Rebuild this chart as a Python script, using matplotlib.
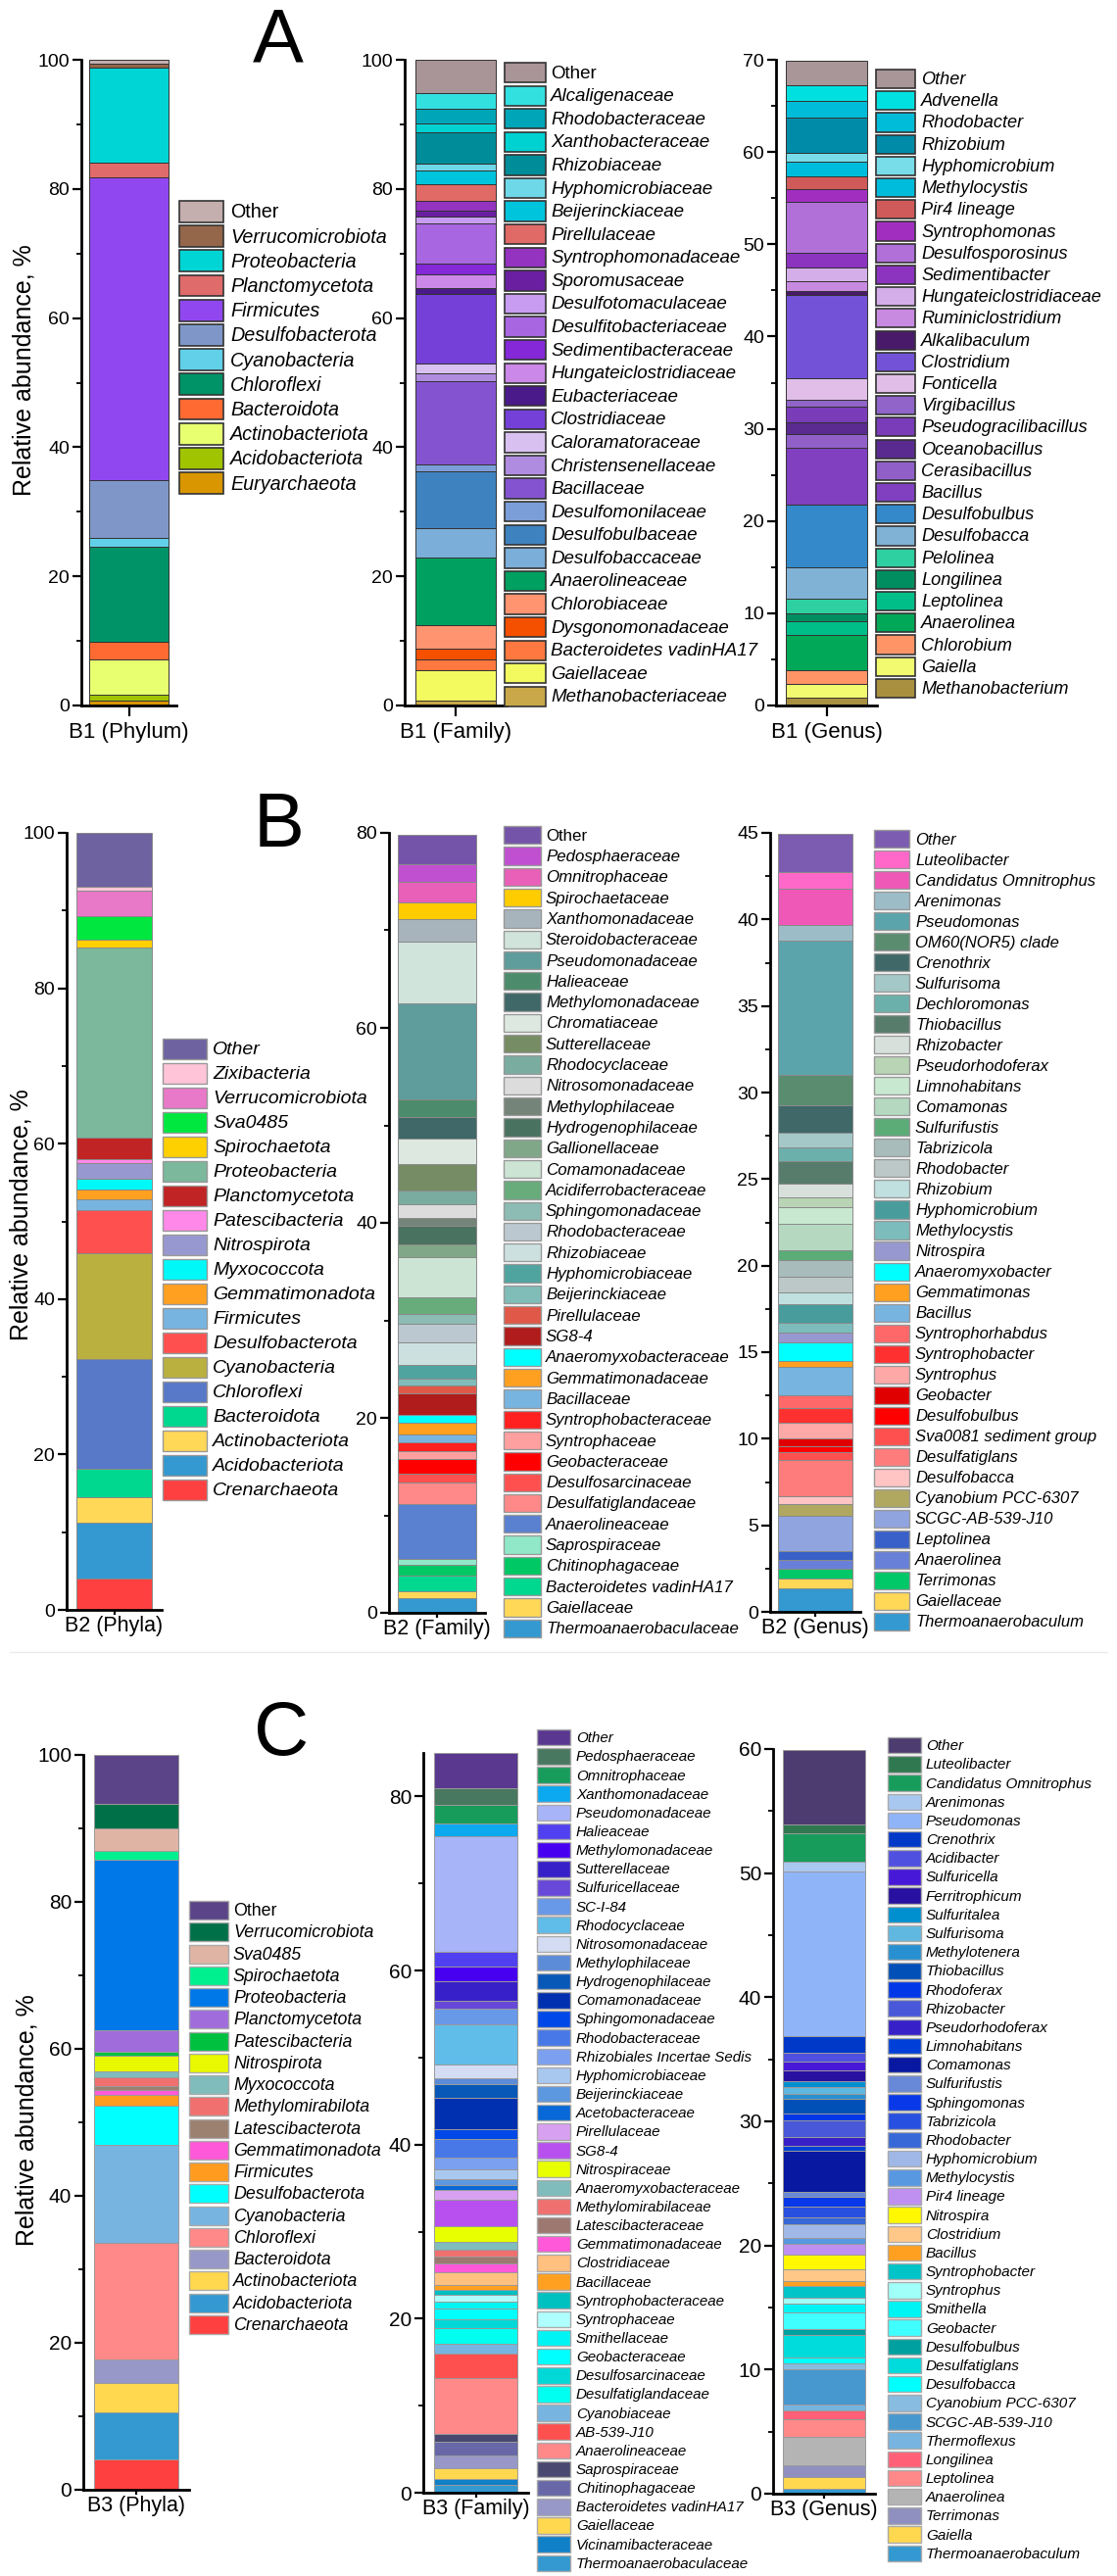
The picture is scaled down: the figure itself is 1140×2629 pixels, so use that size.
import numpy as np
import matplotlib
matplotlib.use("Agg")
import matplotlib.pyplot as plt
from matplotlib.patches import Rectangle
from matplotlib.ticker import MultipleLocator, FuncFormatter
from matplotlib.transforms import ScaledTranslation

plt.rcParams['font.family'] = ['Liberation Sans', 'DejaVu Sans']

# ---------------- DATA (bottom -> top of each stack) ----------------
a_phy_names = ["Euryarchaeota", "Acidobacteriota", "Actinobacteriota", "Bacteroidota", "Chloroflexi",
               "Cyanobacteria", "Desulfobacterota", "Firmicutes", "Planctomycetota", "Proteobacteria",
               "Verrucomicrobiota", "Other"]
a_phy_vals = [0.7, 1.0, 5.4, 2.7, 14.8, 1.3, 9.0, 46.9, 2.3, 14.7, 0.6, 0.6]
a_phy_cols = ['#D99600', '#A0C400', '#E8FF70', '#FF6A33', '#009368', '#62D0E8', '#7F97C8', '#9147F0',
              '#E06B6B', '#00D5D5', '#94664A', '#C4AEAE']

a_fam_names = ["Methanobacteriaceae", "Gaiellaceae", "Bacteroidetes vadinHA17", "Dysgonomonadaceae",
               "Chlorobiaceae", "Anaerolineaceae", "Desulfobaccaceae", "Desulfobulbaceae", "Desulfomonilaceae",
               "Bacillaceae", "Christensenellaceae", "Caloramatoraceae", "Clostridiaceae", "Eubacteriaceae",
               "Hungateiclostridiaceae", "Sedimentibacteraceae", "Desulfitobacteriaceae", "Desulfotomaculaceae",
               "Sporomusaceae", "Syntrophomonadaceae", "Pirellulaceae", "Beijerinckiaceae", "Hyphomicrobiaceae",
               "Rhizobiaceae", "Xanthobacteraceae", "Rhodobacteraceae", "Alcaligenaceae", "Other"]
a_fam_vals = [0.7, 4.8, 1.7, 1.6, 3.6, 10.5, 4.6, 8.8, 1.1, 12.8, 1.2, 1.5, 10.8, 0.9, 2.1, 1.8, 6.2, 1.0,
              1.0, 1.4, 2.6, 2.2, 1.0, 4.8, 1.4, 2.3, 2.4, 5.2]
a_fam_cols = ['#C8A848', '#F2FA60', '#FF7840', '#F55000', '#FF9470', '#00A060', '#7BAED8', '#3F82C0',
              '#7B9ED8', '#8454D0', '#B08CE0', '#D8C0F0', '#7540D8', '#4A1A8A', '#CC88E8', '#8428D8',
              '#A866E0', '#C89CF0', '#6A1FA0', '#9433C0', '#E06A66', '#00C4DC', '#6FD8E8', '#008C98',
              '#00D2D2', '#00A6B8', '#33E0E0', '#A99498']

a_gen_names = ["Methanobacterium", "Gaiella", "Chlorobium", "Anaerolinea", "Leptolinea", "Longilinea",
               "Pelolinea", "Desulfobacca", "Desulfobulbus", "Bacillus", "Cerasibacillus", "Oceanobacillus",
               "Pseudogracilibacillus", "Virgibacillus", "Fonticella", "Clostridium", "Alkalibaculum",
               "Ruminiclostridium", "Hungateiclostridiaceae", "Sedimentibacter", "Desulfosporosinus",
               "Syntrophomonas", "Pir4 lineage", "Methylocystis", "Hyphomicrobium", "Rhizobium", "Rhodobacter",
               "Advenella", "Other"]
a_gen_vals = [0.8, 1.5, 1.5, 3.9, 1.4, 0.9, 1.6, 3.4, 6.8, 6.1, 1.5, 1.3, 1.7, 0.7, 2.4, 9.0, 0.4, 1.1,
              1.5, 1.6, 5.5, 1.4, 1.4, 1.5, 1.0, 3.8, 1.8, 1.7, 2.7]
a_gen_cols = ['#A89040', '#F2FA70', '#FF9466', '#00A858', '#00BE88', '#008E60', '#2ECFA0', '#80B2D6',
              '#3389C9', '#8040C0', '#9060C8', '#5A2A90', '#7A3CB8', '#9064C8', '#E0BEE8', '#7452D8',
              '#4A1A6A', '#C88AE0', '#D4AEE8', '#8C34C0', '#B070D8', '#A22EC0', '#D05A5A', '#00BCDC',
              '#78DDE8', '#008CA8', '#00BCD8', '#00E0E0', '#A89698']

b_phy_names = ["Crenarchaeota", "Acidobacteriota", "Actinobacteriota", "Bacteroidota", "Chloroflexi",
               "Cyanobacteria", "Desulfobacterota", "Firmicutes", "Gemmatimonadota", "Myxococcota",
               "Nitrospirota", "Patescibacteria", "Planctomycetota", "Proteobacteria", "Spirochaetota",
               "Sva0485", "Verrucomicrobiota", "Zixibacteria", "Other"]
b_phy_vals = [4.0, 7.2, 3.3, 3.7, 14.1, 13.6, 5.5, 1.4, 1.3, 1.4, 2.0, 0.5, 2.8, 24.4, 1.0, 3.1, 3.3, 0.5, 6.9]
b_phy_cols = ['#FF4040', '#3399D0', '#FFD858', '#00D890', '#5878C8', '#BAB040', '#FF5050', '#78B4E0',
              '#FFA020', '#00F8F8', '#9898D0', '#FF88E8', '#C02424', '#7BB89C', '#FFD000', '#00E840',
              '#E878C8', '#FFC4D8', '#6E62A0']

b_fam_names = ["Thermoanaerobaculaceae", "Gaiellaceae", "Bacteroidetes vadinHA17", "Chitinophagaceae",
               "Saprospiraceae", "Anaerolineaceae", "Desulfatiglandaceae", "Desulfosarcinaceae",
               "Geobacteraceae", "Syntrophaceae", "Syntrophobacteraceae", "Bacillaceae", "Gemmatimonadaceae",
               "Anaeromyxobacteraceae", "SG8-4", "Pirellulaceae", "Beijerinckiaceae", "Hyphomicrobiaceae",
               "Rhizobiaceae", "Rhodobacteraceae", "Sphingomonadaceae", "Acidiferrobacteraceae",
               "Comamonadaceae", "Gallionellaceae", "Hydrogenophilaceae", "Methylophilaceae",
               "Nitrosomonadaceae", "Rhodocyclaceae", "Sutterellaceae", "Chromatiaceae", "Methylomonadaceae",
               "Halieaceae", "Pseudomonadaceae", "Steroidobacteraceae", "Xanthomonadaceae",
               "Spirochaetaceae", "Omnitrophaceae", "Pedosphaeraceae", "Other"]
b_fam_vals = [1.5, 0.7, 1.6, 1.1, 0.6, 5.7, 2.2, 0.9, 1.5, 0.8, 0.9, 0.8, 1.2, 0.8, 2.2, 0.8, 0.7, 1.4,
              2.3, 1.9, 1.1, 1.7, 4.1, 1.3, 1.9, 0.8, 1.4, 1.4, 2.7, 2.6, 2.3, 1.8, 9.8, 6.3, 2.4, 1.7,
              2.1, 1.8, 3.0]
b_fam_cols = ['#3399D0', '#FFD858', '#00D890', '#00C864', '#90E8C8', '#5A80D0', '#FF8888', '#FF5050',
              '#FF0000', '#FFA0A0', '#FF2020', '#78B4E0', '#FFA020', '#00FFFF', '#B01C1C', '#E05848',
              '#80BCB8', '#50A4A0', '#CCE0E0', '#BCC8D0', '#8CBCB4', '#68AC7C', '#CCE4D4', '#80A888',
              '#4A7260', '#748478', '#DCDCDC', '#7AACA0', '#768C64', '#DCE8E0', '#406868', '#4C8C6C',
              '#5F9C9C', '#D0E4DC', '#A8B4BC', '#FFCC00', '#E860B8', '#C050D0', '#7454A8']

b_gen_names = ["Thermoanaerobaculum", "Gaiellaceae", "Terrimonas", "Anaerolinea", "Leptolinea",
               "SCGC-AB-539-J10", "Cyanobium PCC-6307", "Desulfobacca", "Desulfatiglans",
               "Sva0081 sediment group", "Desulfobulbus", "Geobacter", "Syntrophus", "Syntrophobacter",
               "Syntrophorhabdus", "Bacillus", "Gemmatimonas", "Anaeromyxobacter", "Nitrospira",
               "Methylocystis", "Hyphomicrobium", "Rhizobium", "Rhodobacter", "Tabrizicola", "Sulfurifustis",
               "Comamonas", "Limnohabitans", "Pseudorhodoferax", "Rhizobacter", "Thiobacillus",
               "Dechloromonas", "Sulfurisoma", "Crenothrix", "OM60(NOR5) clade", "Pseudomonas",
               "Arenimonas", "Candidatus Omnitrophus", "Luteolibacter", "Other"]
b_gen_vals = [1.37, 0.53, 0.57, 0.54, 0.48, 2.06, 0.67, 0.44, 2.1, 0.48, 0.3, 0.5, 0.86, 0.89, 0.7, 1.68,
              0.32, 1.1, 0.57, 0.54, 1.08, 0.67, 0.89, 1.0, 0.57, 1.52, 0.95, 0.57, 0.79, 1.27, 0.83, 0.86,
              1.59, 1.75, 7.71, 0.92, 2.1, 0.95, 2.22]
b_gen_cols = ['#3399D0', '#FFD858', '#00C868', '#6880D8', '#3860C8', '#90A4E0', '#B0A860', '#FFC4C4',
              '#FF7C7C', '#FF5050', '#FF0000', '#E00000', '#FFA8A8', '#FF3030', '#FF6868', '#78B4E0',
              '#FFA020', '#00FFFF', '#9898D0', '#7CBCBC', '#489C9C', '#C0E0E0', '#BCC8C8', '#A8BCBC',
              '#5CAC78', '#B4D8C0', '#C8E8D0', '#B8D4B4', '#D8E0DC', '#587C6C', '#6CB0AC', '#A4C8C8',
              '#406868', '#5A8C70', '#5CA4AC', '#9CBCC8', '#F058B8', '#FF68C8', '#7C5CB0']

c_phy_names = ["Crenarchaeota", "Acidobacteriota", "Actinobacteriota", "Bacteroidota", "Chloroflexi",
               "Cyanobacteria", "Desulfobacterota", "Firmicutes", "Gemmatimonadota", "Latescibacterota",
               "Methylomirabilota", "Myxococcota", "Nitrospirota", "Patescibacteria", "Planctomycetota",
               "Proteobacteria", "Spirochaetota", "Sva0485", "Verrucomicrobiota", "Other"]
c_phy_vals = [4.2, 6.4, 3.9, 3.2, 15.9, 13.3, 5.4, 1.5, 0.6, 0.6, 1.2, 0.8, 2.1, 0.5, 2.9, 23.3, 1.2, 3.0,
              3.3, 6.7]
c_phy_cols = ['#FF4040', '#3399D0', '#FFD850', '#9898C8', '#FF8888', '#78B4E0', '#00FFFF', '#FF9C20',
              '#FF58D8', '#9C8070', '#F07070', '#80BCBC', '#E8F800', '#00C040', '#A06CDC', '#0078E8',
              '#00F090', '#E0B4A4', '#007048', '#5C4488']

c_fam_names = ["Thermoanaerobaculaceae", "Vicinamibacteraceae", "Gaiellaceae", "Bacteroidetes vadinHA17",
               "Chitinophagaceae", "Saprospiraceae", "Anaerolineaceae", "AB-539-J10", "Cyanobiaceae",
               "Desulfatiglandaceae", "Desulfosarcinaceae", "Geobacteraceae", "Smithellaceae",
               "Syntrophaceae", "Syntrophobacteraceae", "Bacillaceae", "Clostridiaceae", "Gemmatimonadaceae",
               "Latescibacteraceae", "Methylomirabilaceae", "Anaeromyxobacteraceae", "Nitrospiraceae",
               "SG8-4", "Pirellulaceae", "Acetobacteraceae", "Beijerinckiaceae", "Hyphomicrobiaceae",
               "Rhizobiales Incertae Sedis", "Rhodobacteraceae", "Sphingomonadaceae", "Comamonadaceae",
               "Hydrogenophilaceae", "Methylophilaceae", "Nitrosomonadaceae", "Rhodocyclaceae", "SC-I-84",
               "Sulfuricellaceae", "Sutterellaceae", "Methylomonadaceae", "Halieaceae", "Pseudomonadaceae",
               "Xanthomonadaceae", "Omnitrophaceae", "Pedosphaeraceae", "Other"]
c_fam_vals = [0.9, 0.7, 1.2, 1.5, 1.5, 0.9, 6.5, 2.8, 1.1, 1.8, 1.0, 1.3, 0.7, 0.8, 0.6, 0.6, 1.4, 1.1,
              0.7, 0.8, 0.9, 1.8, 3.1, 1.1, 0.5, 0.7, 1.2, 1.3, 2.1, 1.2, 3.6, 1.6, 0.6, 1.6, 4.6, 1.8,
              0.9, 2.3, 1.7, 1.7, 13.2, 1.5, 2.1, 2.0, 4.0]
c_fam_cols = ['#3399D0', '#1080C8', '#FFD850', '#9898C8', '#6868A8', '#484870', '#FF8888', '#FF5050',
              '#78B4E0', '#00FFF0', '#00D8D8', '#00FFFF', '#00F4F4', '#B0FFFF', '#00C0C0', '#FFA020',
              '#FFC080', '#FF58D8', '#9C7870', '#F07070', '#80BCBC', '#E8FF00', '#B850F0', '#D8A0F0',
              '#0868D8', '#5C98E0', '#A8C8F0', '#7CA0F0', '#4878E8', '#0048E8', '#0030B0', '#0858B8',
              '#5C8CD8', '#D4DCF4', '#60BCE8', '#6898E8', '#6848D8', '#3820C8', '#4800F0', '#5040F0',
              '#A8B4F8', '#0CA8F0', '#189C5C', '#487860', '#5A3890']

c_gen_names = ["Thermoanaerobaculum", "Gaiella", "Terrimonas", "Anaerolinea", "Leptolinea", "Longilinea",
               "Thermoflexus", "SCGC-AB-539-J10", "Cyanobium PCC-6307", "Desulfobacca", "Desulfatiglans",
               "Desulfobulbus", "Geobacter", "Smithella", "Syntrophus", "Syntrophobacter", "Bacillus",
               "Clostridium", "Nitrospira", "Pir4 lineage", "Methylocystis", "Hyphomicrobium", "Rhodobacter",
               "Tabrizicola", "Sphingomonas", "Sulfurifustis", "Comamonas", "Limnohabitans",
               "Pseudorhodoferax", "Rhizobacter", "Rhodoferax", "Thiobacillus", "Methylotenera",
               "Sulfurisoma", "Sulfuritalea", "Ferritrophicum", "Sulfuricella", "Acidibacter", "Crenothrix",
               "Pseudomonas", "Arenimonas", "Candidatus Omnitrophus", "Luteolibacter", "Other"]
c_gen_vals = [0.4, 0.95, 0.95, 2.3, 1.4, 0.7, 0.5, 2.8, 0.5, 0.5, 1.8, 0.5, 1.3, 0.7, 0.5, 0.9, 0.4, 1.0,
              1.2, 0.8, 0.5, 1.1, 0.6, 0.8, 0.8, 0.4, 3.3, 0.4, 0.7, 1.4, 0.5, 1.2, 0.4, 0.6, 0.4, 0.9,
              0.7, 0.7, 1.4, 13.2, 0.8, 2.3, 0.7, 6.0]
c_gen_cols = ['#3399D0', '#FFD850', '#9090C0', '#B4B4B4', '#FF8888', '#FF6078', '#78B4E0', '#4898D0',
              '#88BCE0', '#00FFFF', '#00DCDC', '#00A0A0', '#40FFFF', '#00F4F4', '#A0FFF8', '#00C4C8',
              '#FFA020', '#FFC888', '#FFF800', '#C090F0', '#5898E0', '#A0B8E8', '#3868D8', '#2850E0',
              '#0838E8', '#6888D8', '#0818A0', '#0040D8', '#3820C8', '#4858D8', '#0038E8', '#0050B8',
              '#2890D0', '#60B8E0', '#0090D0', '#2810A0', '#4818D8', '#5050E0', '#0038C8', '#90B4F8',
              '#A8C8F0', '#189C5C', '#307850', '#4C3C70']

# ---------------- FIGURE ----------------
W, H = 1140, 2629
fig = plt.figure(figsize=(W / 100, H / 100), dpi=100)
fig.patch.set_facecolor('white')

ov = fig.add_axes([0, 0, 1, 1], zorder=10)
ov.set_xlim(0, W)
ov.set_ylim(H, 0)
ov.axis('off')
ov.patch.set_alpha(0)


def bar_panel(box, ymax, major, minor, vals, cols, xlabel, bw, edge, tfs, xfs, xlen, xpad, xshift=0):
    l, r, t, b = box
    ax = fig.add_axes([l / W, 1 - b / H, (r - l) / W, (b - t) / H])
    vals = np.asarray(vals, dtype=float)
    bottoms = np.concatenate([[0.0], np.cumsum(vals)[:-1]])
    ax.bar(np.zeros(len(vals)), vals, bottom=bottoms, width=bw, color=cols,
           edgecolor=edge, linewidth=0.7)
    ax.set_xlim(-0.5, 0.5)
    ax.set_ylim(0, ymax)
    ax.yaxis.set_major_locator(MultipleLocator(major))
    ax.yaxis.set_minor_locator(MultipleLocator(minor))
    ax.yaxis.set_major_formatter(FuncFormatter(lambda v, p: f"{v:g}"))
    ax.set_xticks([0])
    ax.set_xticklabels([xlabel], fontsize=xfs)
    if xshift:
        for lbl in ax.get_xticklabels():
            lbl.set_transform(lbl.get_transform() + ScaledTranslation(xshift / 100, 0, fig.dpi_scale_trans))
    for s in ('top', 'right'):
        ax.spines[s].set_visible(False)
    for s in ('left', 'bottom'):
        ax.spines[s].set_linewidth(2.0)
    ax.tick_params(axis='y', which='major', length=6.5, width=1.6, labelsize=tfs, direction='out', pad=2)
    ax.tick_params(axis='y', which='minor', length=3.5, width=1.3, direction='out')
    ax.tick_params(axis='x', which='major', length=xlen, width=1.6, pad=xpad)
    ax.set_facecolor('none')
    return ax


def legend(names, cols, x0, x1, xt, top, bottom, fs, edge, lw=1.0, other_italic=False, frac=0.86):
    n = len(names)
    pitch = (bottom - top) / (n - 1 + frac)
    for i, (nm, c) in enumerate(zip(names[::-1], cols[::-1])):
        y = top + i * pitch
        ov.add_patch(Rectangle((x0, y), x1 - x0, pitch * frac, facecolor=c, edgecolor=edge, lw=lw))
        upright = (nm == 'Other') and not other_italic
        ov.text(xt, y + pitch * frac / 2 + 1, nm, fontsize=fs,
                style='normal' if upright else 'italic', va='center', ha='left')


# ---- Panel A ----
bar_panel((83, 180, 61, 720), 100, 20, 10, a_phy_vals, a_phy_cols, "B1 (Phylum)", 0.845, '#333333',
          14, 16, 8, 4, xshift=25)
legend(a_phy_names, a_phy_cols, 183, 228, 235, 205, 504, 14.2, '#333333', 1.2)
bar_panel((413, 517, 61, 720), 100, 20, 10, a_fam_vals, a_fam_cols, "B1 (Family)", 0.79, '#333333',
          14, 16, 8, 4, xshift=35)
legend(a_fam_names, a_fam_cols, 515, 557, 562, 64, 721, 13.5, '#333333', 1.2)
bar_panel((792, 895, 61, 720), 70, 10, 5, a_gen_vals, a_gen_cols, "B1 (Genus)", 0.80, '#333333',
          14, 16, 8, 4, xshift=13)
legend(a_gen_names, a_gen_cols, 894, 934, 940, 71, 712, 13.1, '#333333', 1.2, other_italic=True)

# ---- Panel B ----
bar_panel((68, 165, 850, 1643), 100, 20, 10, b_phy_vals, b_phy_cols, "B2 (Phyla)", 0.80, '#8a8a8a',
          14, 15.5, 3.5, 1)
legend(b_phy_names, b_phy_cols, 166, 211, 217, 1060, 1531, 14.0, '#999999', 1.0, other_italic=True)
bar_panel((397, 495, 850, 1646), 80, 20, 10, b_fam_vals, b_fam_cols, "B2 (Family)", 0.82, '#8a8a8a',
          14, 15.5, 3.5, 1)
legend(b_fam_names, b_fam_cols, 514, 552, 557, 843, 1671, 12.2, '#999999', 1.0)
bar_panel((786, 878, 850, 1645), 45, 5, 2.5, b_gen_vals, b_gen_cols, "B2 (Genus)", 0.83, '#8a8a8a',
          14, 15.5, 3.5, 1)
legend(b_gen_names, b_gen_cols, 892, 928, 934, 847, 1664, 12.0, '#999999', 1.0, other_italic=True)

# ---- Panel C ----
bar_panel((85, 193, 1791, 2541), 100, 20, 10, c_phy_vals, c_phy_cols, "B3 (Phyla)", 0.80, '#9a9a9a',
          15, 15.5, 3.5, 1)
legend(c_phy_names, c_phy_cols, 193, 233, 238, 1940, 2382, 12.8, '#aaaaaa', 1.0)
bar_panel((432, 539, 1789, 2544), 85, 20, 10, c_fam_vals, c_fam_cols, "B3 (Family)", 0.80, '#9a9a9a',
          15, 15.5, 3.5, 1)
legend(c_fam_names, c_fam_cols, 548, 582, 588, 1765, 2624, 10.9, '#aaaaaa', 1.0, other_italic=True)
bar_panel((789, 893, 1785, 2545), 60, 10, 5, c_gen_vals, c_gen_cols, "B3 (Genus)", 0.81, '#9a9a9a',
          15, 15.5, 3.5, 1)
legend(c_gen_names, c_gen_cols, 906, 940, 945, 1773, 2614, 11.0, '#aaaaaa', 1.0, other_italic=True)

# ---- panel letters, y labels, separator ----
for letter, (x, y) in {"A": (284, 43), "B": (285, 843), "C": (287, 1770)}.items():
    ov.text(x, y, letter, fontsize=56, ha='center', va='center')
for x, y in [(25, 378), (22, 1240), (28, 2164)]:
    ov.text(x, y, "Relative abundance, %", fontsize=18, rotation=90, ha='center', va='center')
ov.plot([10, 1130], [1686, 1686], color='#EBEBEB', lw=1)

fig.savefig("out.png", dpi=100, facecolor='white')
